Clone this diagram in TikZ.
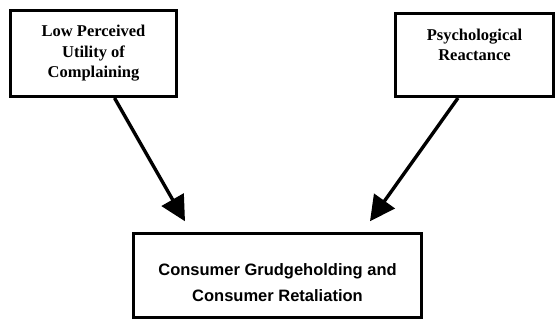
\documentclass[tikz,border=0pt]{standalone}
\usepackage{fontspec}
\newfontfamily\boxserif{Liberation Serif}
\newfontfamily\boxsans{Liberation Sans}
\usepackage{tikz}
\usetikzlibrary{arrows.meta, positioning}
\begin{document}
\begin{tikzpicture}[x=1pt,y=1pt,
  factor/.style={draw, line width=3pt, align=center, inner sep=0pt,
    font=\boxserif\bfseries\fontsize{16.5}{20.5}\selectfont},
  outcome/.style={draw, line width=2.4pt, align=center, inner sep=0pt,
    font=\boxsans\bfseries\fontsize{16.5}{26}\selectfont},
  causes/.style={line width=3.4pt, -{Triangle[length=25pt,width=25pt]}}]
\useasboundingbox (0,0) rectangle (556,320);
\node[factor, minimum width=166, minimum height=86](util) at (93.5,266.5)
    {Low Perceived\\Utility of\\Complaining};
\node[factor, minimum width=158, minimum height=83](react) at (474.5,265)
    {Psychological\\Reactance\\ ~};
\node[outcome, minimum width=288, minimum height=84](grudge) at (277.5,44.5)
    {\rule{0pt}{26pt}Consumer Grudgeholding and\\Consumer Retaliation};
\coordinate (ltip) at ([xshift=-92.5, yshift=11]grudge.north);
\coordinate (rtip) at ([xshift=92.5, yshift=11]grudge.north);
\draw[causes]([xshift=21]util.south)--(ltip);
\draw[causes]([xshift=-16.5]react.south)--(rtip);
\end{tikzpicture}
\end{document}
